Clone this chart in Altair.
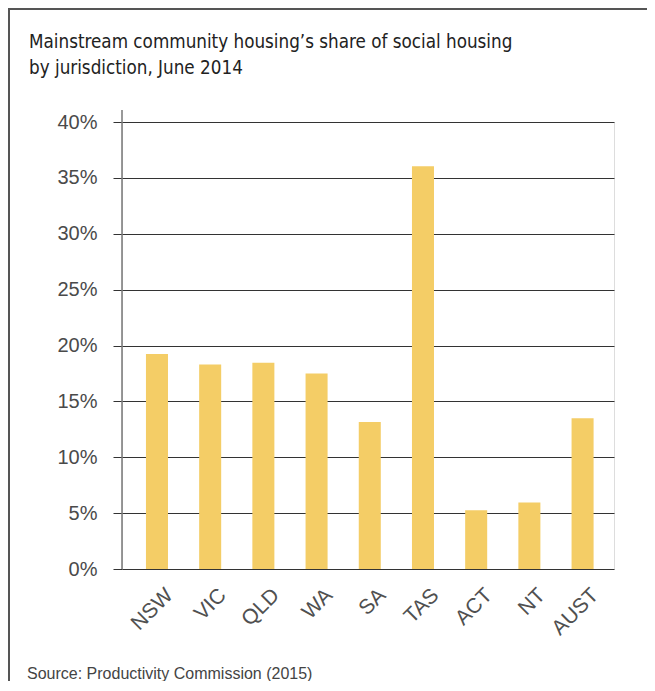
import altair as alt
import pandas as pd

jurisdictions = ["NSW", "VIC", "QLD", "WA", "SA", "TAS", "ACT", "NT", "AUST"]
shares = [19.25, 18.3, 18.45, 17.5, 13.15, 36.05, 5.25, 5.95, 13.5]
y_ticks = [0, 5, 10, 15, 20, 25, 30, 35, 40]
title_lines = ["Mainstream community housing\u2019s share of social housing",
               "by jurisdiction, June 2014"]
source_text = "Source: Productivity Commission (2015)"

W, H = 492, 447

df = pd.DataFrame({"jurisdiction": jurisdictions, "share": shares})

bars = alt.Chart(df).mark_bar(color="#F4CD66").encode(
    x=alt.X("jurisdiction:N", sort=jurisdictions,
            scale=alt.Scale(paddingInner=0.586, paddingOuter=0.417, align=0.54),
            axis=alt.Axis(title=None, labelAngle=-45, labelFontSize=21,
                          labelFont="Liberation Sans", labelColor="#505050",
                          ticks=False, domain=False, labelPadding=15,
                          labelOffset=5)),
    y=alt.Y("share:Q", scale=alt.Scale(domain=[0, 40], nice=False),
            axis=alt.Axis(title=None, values=y_ticks,
                          labelExpr="datum.value + '%'",
                          labelFontSize=20, labelFont="Liberation Sans",
                          labelColor="#4a4a4a", labelPadding=16,
                          tickSize=9, tickColor="#333333",
                          grid=True, gridColor="#333333", gridWidth=1,
                          domain=False))
)

yline = alt.Chart(pd.DataFrame({"a": [0]})).mark_rule(color="#777777", strokeWidth=1.5).encode(
    x=alt.value(0), y=alt.value(-12), y2=alt.value(H)
)

frame = alt.Chart(pd.DataFrame({"a": [0]})).mark_rect(
    fill="white", fillOpacity=0, stroke="#555555", strokeWidth=2, clip=False
).encode(
    x=alt.value(-113), x2=alt.value(W + 60), y=alt.value(-113), y2=alt.value(H + 140)
)

title = alt.Chart(pd.DataFrame({"t": title_lines, "i": [0, 1]})).mark_text(
    align="left", baseline="alphabetic", fontSize=18.7,
    font="DejaVu Sans Condensed, Roboto",
    color="#222222"
).encode(
    text="t:N",
    x=alt.value(-93),
    y=alt.Y("i:Q", scale=alt.Scale(domain=[0, 1], range=[-74, -48]), axis=None),
)

source = alt.Chart(pd.DataFrame({"t": [source_text]})).mark_text(
    align="left", baseline="alphabetic", fontSize=16, font="Liberation Sans",
    color="#444444"
).encode(text="t:N", x=alt.value(-95), y=alt.value(557))

chart = alt.layer(frame, bars, yline, title, source).resolve_scale(y="independent").properties(
    width=W, height=H,
    autosize=alt.AutoSizeParams(type="none"),
    padding={"left": 114, "top": 114, "right": 33, "bottom": 112},
).configure_view(stroke=None).configure(background="white")

chart.save("out.html", embed_options={"renderer": "svg", "actions": False})
